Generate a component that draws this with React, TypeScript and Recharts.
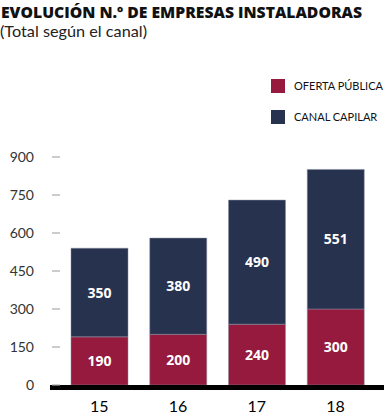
import React from 'react';
import { BarChart, Bar, XAxis, YAxis, LabelList, ReferenceLine } from 'recharts';

const years = ['15', '16', '17', '18'];
const ofertaPublica = [190, 200, 240, 300];
const canalCapilar = [350, 380, 490, 551];
const yTicks = [0, 150, 300, 450, 600, 750, 900];

const seriesNames = ['OFERTA PÚBLICA', 'CANAL CAPILAR'];
const seriesColors = ['#951a3e', '#27324f'];

const title = 'EVOLUCIÓN N.º DE EMPRESAS INSTALADORAS';
const subtitle = '(Total según el canal)';

const data = years.map((y, i) => ({ year: y, oferta: ofertaPublica[i], canal: canalCapilar[i] }));

const AxisBar = (props: any) => {
  const { x1, x2, y1 } = props;
  return <line x1={x1 - 10} x2={x2 + 9} y1={y1 + 2.5} y2={y1 + 2.5} stroke="#000" strokeWidth={5} />;
};

const YTick = (props: any) => {
  const { y, payload } = props;
  return (
    <text x={34} y={y} dy={5} textAnchor="end" fontFamily="Lato" fontSize={14} fill="#333">
      {payload.value}
    </text>
  );
};

export default function App() {
  return (
    <div style={{ position: 'absolute', left: 0, top: 0, width: 384, height: 417, background: '#fff' }}>
      <svg width={384} height={150} style={{ position: 'absolute', left: 0, top: 0 }}>
        <text x={1} y={17.5} fontFamily="Open Sans" fontWeight={800} fontSize={15} fill="#111" textLength={361} lengthAdjust="spacingAndGlyphs">
          {title}
        </text>
        <text x={0} y={37} fontFamily="Lato" fontSize={15} fill="#222" textLength={147} lengthAdjust="spacingAndGlyphs">
          {subtitle}
        </text>
        {seriesNames.map((n, i) => (
          <g key={n}>
            <rect x={271} y={79 + i * 31} width={14} height={14} fill={seriesColors[i]} />
            <text x={294} y={90 + i * 31} fontFamily="Lato" fontSize={11} fill="#111">
              {n}
            </text>
          </g>
        ))}
      </svg>
      <div style={{ position: 'absolute', left: 0, top: 0 }}>
        <BarChart width={384} height={417} data={data} margin={{ top: 157, right: 9, bottom: 0, left: 0 }}>
          <YAxis
            domain={[0, 900]}
            ticks={yTicks}
            width={60}
            axisLine={false}
            tickLine={{ stroke: '#aaa', strokeWidth: 1.2 }}
            tickSize={8}
            tick={<YTick />}
            interval={0}
          />
          <XAxis
            dataKey="year"
            height={32}
            axisLine={false}
            tickLine={false}
            tickSize={0}
            tickMargin={16}
            tick={{ fontFamily: 'Lato', fontSize: 16, fill: '#000' }}
          />
          <Bar dataKey="oferta" stackId="a" fill={seriesColors[0]} barSize={57} stroke="#8a8ea0" strokeWidth={0.5} isAnimationActive={false}>
            <LabelList dataKey="oferta" position="center" fill="#fff" fontFamily="Open Sans" fontWeight={700} fontSize={14} />
          </Bar>
          <Bar dataKey="canal" stackId="a" fill={seriesColors[1]} barSize={57} stroke="#8a8ea0" strokeWidth={0.5} isAnimationActive={false}>
            <LabelList dataKey="canal" position="center" fill="#fff" fontFamily="Open Sans" fontWeight={700} fontSize={14} />
          </Bar>
          <ReferenceLine y={0} shape={<AxisBar />} />
        </BarChart>
      </div>
    </div>
  );
}
